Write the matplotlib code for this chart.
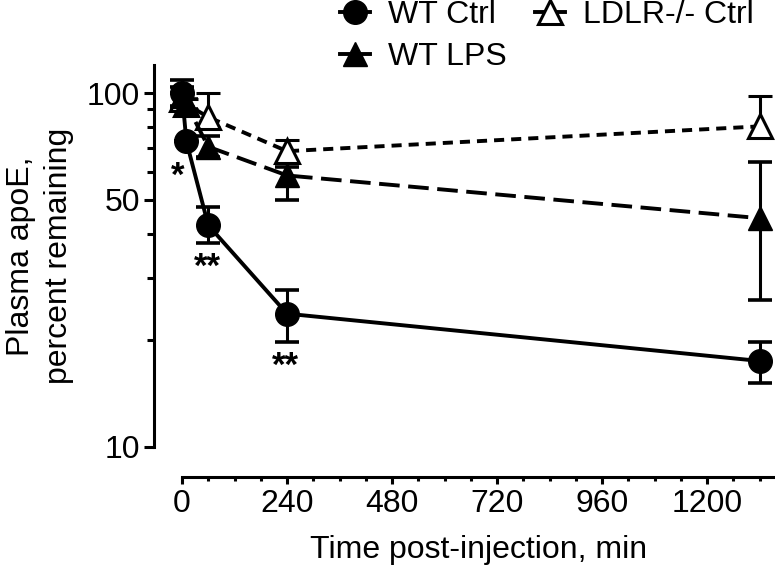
import matplotlib
matplotlib.use("Agg")
import matplotlib.pyplot as plt
from matplotlib.lines import Line2D
from matplotlib.ticker import FixedLocator, FixedFormatter, NullFormatter

plt.rcParams['font.family'] = ['Liberation Sans', 'DejaVu Sans']

# time points, min
time = [0, 10, 60, 240, 1320]

wt_ctrl = [100, 73, 42.3, 23.8, 17.5]
wt_ctrl_lo = [100, 73, 37.8, 19.8, 15.2]
wt_ctrl_hi = [109, 73, 47.8, 27.7, 19.8]

wt_lps = [98, 93, 70.5, 58.5, 44.3]
wt_lps_lo = [92, 90, 66, 49.8, 26]
wt_lps_hi = [104, 96, 75.5, 62, 63.8]

ldlr_ctrl = [96, 93, 85.5, 68.5, 80.5]
ldlr_ctrl_lo = [92, 90, 80, 64, 75]
ldlr_ctrl_hi = [100, 96, 100, 73.5, 98]

# significance marks (time, value, text)
stars = [(-9, 61.9, "*"), (57, 34.3, "**"), (237, 18.0, "**")]

FS = 23

fig = plt.figure(figsize=(7.75, 5.69), dpi=100)
ax = fig.add_axes([182 / 775, 1 - 447 / 569, 593 / 775, (447 - 65) / 569])


def err(y, lo, hi):
    return [[a - b for a, b in zip(y, lo)], [b - a for a, b in zip(y, hi)]]


lw = 2.8
common = dict(color='black', ecolor='black', elinewidth=2.2, capsize=8.3, capthick=2.6,
              lw=lw, clip_on=False)

ax.errorbar(time, ldlr_ctrl, yerr=err(ldlr_ctrl, ldlr_ctrl_lo, ldlr_ctrl_hi),
            marker='^', ms=17, mfc='white', mec='black', mew=2.2,
            dashes=(2.6, 1.8), **common)
ax.errorbar(time, wt_lps, yerr=err(wt_lps, wt_lps_lo, wt_lps_hi),
            marker='^', ms=17, mfc='black', mec='black',
            dashes=(5.3, 2.2), **common)
ax.errorbar(time, wt_ctrl, yerr=err(wt_ctrl, wt_ctrl_lo, wt_ctrl_hi),
            marker='o', ms=17, mfc='black', mec='black', **common)

for x, y, s in stars:
    ax.annotate(s, (x, y), xytext=(0, -7), textcoords='offset points',
                ha='center', va='center', fontsize=25, fontweight='bold',
                zorder=5, annotation_clip=False)

ax.set_yscale('log')
ax.set_ylim(10, 120)
ax.set_xlim(0, 1355)
ax.yaxis.set_major_locator(FixedLocator([10, 50, 100]))
ax.yaxis.set_major_formatter(FixedFormatter(['10', '50', '100']))
ax.yaxis.set_minor_locator(FixedLocator([20, 30, 40, 60, 70, 80, 90]))
ax.yaxis.set_minor_formatter(NullFormatter())
ax.set_xticks([0, 240, 480, 720, 960, 1200])
ax.set_xticks(range(0, 1355, 60), minor=True)

for sp in ['top', 'right']:
    ax.spines[sp].set_visible(False)
ax.spines['left'].set_position(('outward', 20))
ax.spines['bottom'].set_position(('outward', 21.6))
ax.spines['left'].set_linewidth(2.2)
ax.spines['bottom'].set_linewidth(2.2)
ax.tick_params(axis='y', which='major', length=7, width=2.2, labelsize=FS, pad=3)
ax.tick_params(axis='y', which='minor', length=5, width=2.2)
ax.tick_params(axis='x', which='major', length=5, width=2.2, labelsize=FS, pad=4)
ax.tick_params(axis='x', which='minor', length=3, width=2.2)

ax.set_xlabel("Time post-injection, min", fontsize=FS, labelpad=11)
ax.set_ylabel("Plasma apoE,\npercent remaining", fontsize=FS, linespacing=1.35)
ax.yaxis.set_label_coords(-0.182, 0.5)

handles = [
    Line2D([], [], color='black', lw=lw, marker='o', ms=17),
    Line2D([], [], color='black', lw=lw, marker='^', ms=17),
    Line2D([], [], color='black', lw=lw, marker='^', ms=17, mfc='white', mew=2.2),
]
fig.legend(handles, ["WT Ctrl", "WT LPS", "LDLR-/- Ctrl"],
           ncol=2, loc='upper left', bbox_to_anchor=(340 / 775, 1.0),
           frameon=False, fontsize=FS, handlelength=0.94, handletextpad=0.56,
           columnspacing=0.9, labelspacing=0.38, borderpad=0, borderaxespad=0)

fig.savefig("out.png", dpi=100)
